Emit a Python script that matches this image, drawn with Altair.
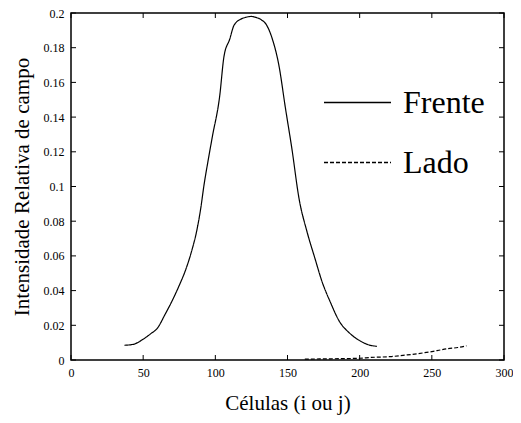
import altair as alt
import pandas as pd

# Frente (solid) series
x_frente = [37, 43, 50, 55, 60, 65, 70, 75, 79, 84, 87, 90, 92, 95, 98, 103, 106, 110, 113,
            118, 121, 125, 128, 132, 135, 139.5, 144, 148.6, 153, 158, 163.5, 169, 174,
            179.5, 186, 193, 201, 206, 212]
y_frente = [0.0085, 0.009, 0.012, 0.015, 0.0185, 0.026, 0.034, 0.043, 0.051, 0.064, 0.074,
            0.088, 0.100, 0.115, 0.129, 0.152, 0.175, 0.185, 0.193, 0.1966, 0.1975, 0.198,
            0.1975, 0.196, 0.1937, 0.185, 0.17, 0.145, 0.122, 0.093, 0.074, 0.0586, 0.045,
            0.0337, 0.0222, 0.0155, 0.0107, 0.0088, 0.0079]

# Lado (dashed) series
x_lado = [162, 180, 200, 208, 215, 222, 230, 238, 245, 251, 256, 261, 268, 274]
y_lado = [0.0005, 0.0007, 0.001, 0.0015, 0.0017, 0.002, 0.0027, 0.0034, 0.0042, 0.005,
          0.0058, 0.0065, 0.0072, 0.0082]

series_names = ["Frente", "Lado"]
x_ticks = [0, 50, 100, 150, 200, 250, 300]
y_ticks = [0, 0.02, 0.04, 0.06, 0.08, 0.1, 0.12, 0.14, 0.16, 0.18, 0.2]

df = pd.concat([
    pd.DataFrame({"x": x_frente, "y": y_frente, "serie": series_names[0]}),
    pd.DataFrame({"x": x_lado, "y": y_lado, "serie": series_names[1]}),
])
xt_df = pd.DataFrame({"x": x_ticks})
yt_df = pd.DataFrame({"y": y_ticks})

W, H = 433, 347
TL = 5  # inward tick length
FONT = "Liberation Serif"

xscale = alt.Scale(domain=[0, 300], nice=False, zero=False)
yscale = alt.Scale(domain=[0, 0.2], nice=False)

x_axis = alt.Axis(values=x_ticks, ticks=False, grid=False, domain=False,
                  labelFlush=False, labelOverlap=False, labelFont=FONT,
                  labelFontSize=12, labelColor="black", labelPadding=7,
                  title="Células (i ou j)", titleFont=FONT, titleFontSize=21,
                  titleFontWeight="normal", titleColor="black", titlePadding=14)
y_axis = alt.Axis(values=y_ticks, format="~g", ticks=False, domain=False,
                  grid=False, labelFlush=False, labelOverlap=False,
                  labelFont=FONT, labelFontSize=12,
                  labelColor="black", labelPadding=7,
                  title="Intensidade Relativa de campo", titleFont=FONT,
                  titleFontSize=21, titleFontWeight="normal", titleColor="black",
                  titlePadding=11)

X = alt.X("x:Q", scale=xscale, axis=x_axis)
Y = alt.Y("y:Q", scale=yscale, axis=y_axis)

main = alt.Chart(df).mark_line(color="black", strokeWidth=1.2, interpolate="monotone").encode(
    x=X,
    y=Y,
    strokeDash=alt.StrokeDash(
        "serie:N",
        scale=alt.Scale(domain=series_names, range=[[1, 0], [4, 2]]),
        legend=alt.Legend(title=None, orient="none", legendX=252, legendY=55, padding=0,
                          symbolType="stroke", symbolSize=4489, symbolStrokeWidth=1.5,
                          symbolStrokeColor="black", labelFont=FONT, labelFontSize=32,
                          labelColor="black", labelOffset=11, rowPadding=9),
    ),
)

frame = alt.Chart(pd.DataFrame({"k": [0]})).mark_rect(
    filled=False, stroke="black", strokeWidth=1.5
).encode(x=alt.value(0), x2=alt.value(W), y=alt.value(0), y2=alt.value(H))

xt_bottom = alt.Chart(xt_df).mark_rule(color="black", strokeWidth=1).encode(
    x=X, y=alt.value(H), y2=alt.value(H - TL))
xt_top = alt.Chart(xt_df).mark_rule(color="black", strokeWidth=1).encode(
    x=X, y=alt.value(0), y2=alt.value(TL))
yt_left = alt.Chart(yt_df).mark_rule(color="black", strokeWidth=1).encode(
    y=Y, x=alt.value(0), x2=alt.value(TL))
yt_right = alt.Chart(yt_df).mark_rule(color="black", strokeWidth=1).encode(
    y=Y, x=alt.value(W - TL), x2=alt.value(W))

chart = alt.layer(main, xt_bottom, xt_top, yt_left, yt_right, frame).properties(
    width=W, height=H,
    background="white",
    autosize=alt.AutoSizeParams(type="none"),
    padding={"left": 63, "top": 5, "right": 9, "bottom": 55},
).configure_view(stroke=None)

chart.save("out.html", embed_options={"renderer": "svg", "actions": False})
